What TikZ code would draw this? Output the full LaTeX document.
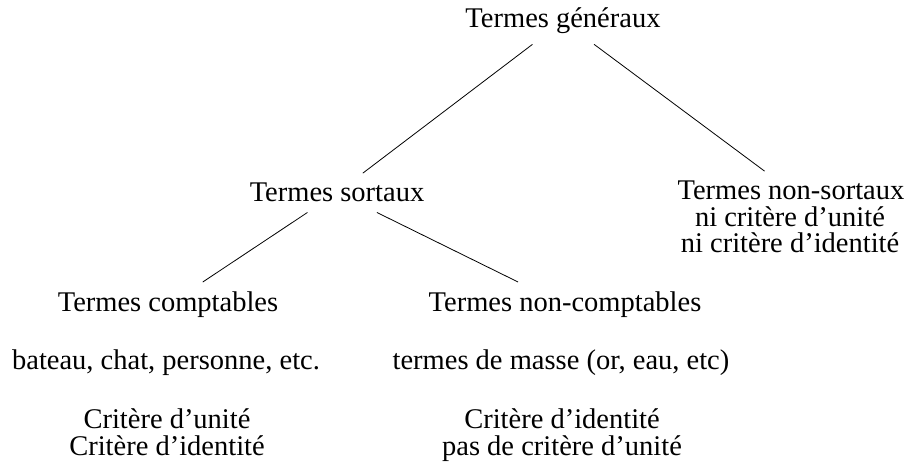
\documentclass[tikz,border=0pt]{standalone}
\usepackage{fontspec}
\setmainfont{Liberation Serif}

\begin{document}
\begin{tikzpicture}[x=1pt,y=1pt,
    terme/.style={anchor=base, inner sep=10pt, align=center,
      font=\fontsize{28.5}{26.7}\selectfont},
    branche/.style={line width=0.8pt, black}]
  \useasboundingbox (0,0) rectangle (908,461);

  \node[terme] (generaux) at (563,433) {Termes généraux};

  \node[terme] (sortaux) at (337,259) {Termes sortaux};
  \node[terme] (nonsortaux) at (791,261) {Termes non-sortaux};
  % base = last line
  \node[terme] (nicritere) at (790,208) {ni critère d’unité\\ni critère d’identité};

  \node[terme] (comptables) at (168,149) {Termes comptables};
  \node[terme] (noncomptables) at (565,149) {Termes non-comptables};

  \node[terme] (exemples) at (166,92) {bateau, chat, personne, etc.};
  \node[terme] (masse) at (561,92) {termes de masse (or, eau, etc)};

  \node[terme] (critcomptables) at (167,6) {Critère d’unité\\Critère d’identité};
  \node[terme] (critnoncomptables) at (562,6) {Critère d’identité\\pas de critère d’unité};

  \draw[branche] (generaux) -- (sortaux);
  \draw[branche] (generaux) -- (nonsortaux);
  \draw[branche] (sortaux) -- (comptables);
  \draw[branche] (sortaux) -- (noncomptables);
\end{tikzpicture}
\end{document}
